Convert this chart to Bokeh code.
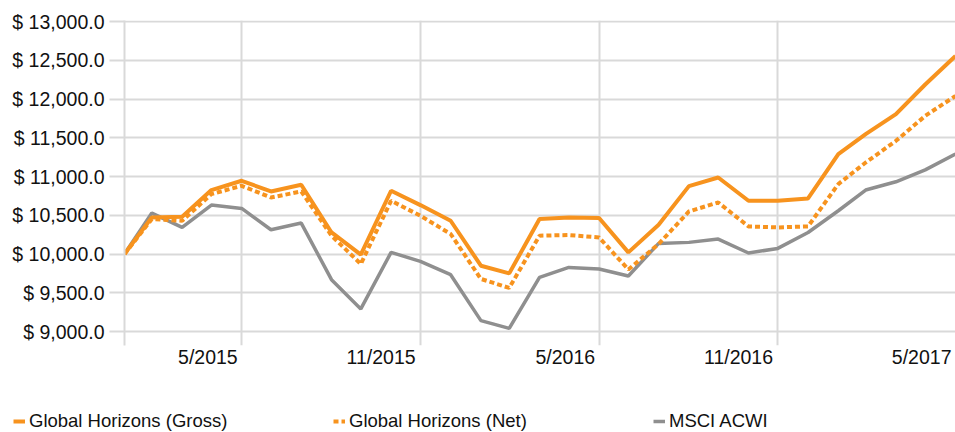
import pandas as pd
from bokeh.plotting import figure
from bokeh.models import Range1d, FixedTicker, Legend, LegendItem
from bokeh.embed import file_html
from bokeh.resources import INLINE

# ---------------- data ----------------
dates = pd.date_range("2015-01-31", periods=29, freq="ME")

gross = [10000, 10472, 10481, 10825, 10945, 10807, 10893, 10278, 9991, 10816,
         10631, 10429, 9849, 9750, 10451, 10472, 10464, 10021, 10378, 10876,
         10987, 10687, 10687, 10717, 11289, 11546, 11804, 12187, 12555]
net = [10000, 10451, 10429, 10773, 10880, 10729, 10807, 10236, 9871, 10687,
       10494, 10258, 9678, 9562, 10236, 10245, 10214, 9800, 10129, 10549,
       10665, 10356, 10343, 10356, 10902, 11180, 11460, 11782, 12040]
msci = [10000, 10528, 10343, 10631, 10588, 10313, 10399, 9669, 9291, 10021,
        9905, 9733, 9140, 9041, 9698, 9827, 9807, 9716, 10137, 10150,
        10193, 10013, 10072, 10278, 10558, 10825, 10932, 11086, 11289]

series_names = ["Global Horizons (Gross)", "Global Horizons (Net)", "MSCI ACWI"]

x_tick_dates = ["2015-05-31", "2015-11-30", "2016-05-31", "2016-11-30", "2017-05-31"]
x_tick_labels = ["5/2015", "11/2015", "5/2016", "11/2016", "5/2017"]

y_ticks = [9000, 9500, 10000, 10500, 11000, 11500, 12000, 12500, 13000]
y_tick_labels = ["$ 9,000.0", "$ 9,500.0", "$ 10,000.0", "$ 10,500.0", "$ 11,000.0",
                 "$ 11,500.0", "$ 12,000.0", "$ 12,500.0", "$ 13,000.0"]

# ---------------- style ----------------
ORANGE = "#F7931E"
GRAY = "#8F8F8F"
GRID = "#D9D9D9"
TEXT = "#111111"
FONT = "Liberation Sans"
AXIS_FS = 19.5

W = 955
FRAME_LEFT, FRAME_TOP = 124, 20
PX_PER_UNIT = 310.0 / 4000.0     # 4000 $ span over 310 px
BELOW_EXT = 14                    # grid lines run 14 px below the lowest gridline
TOP_EXT = 1
MAIN_H = 405
LEG_H = 432 - MAIN_H


def ms(d):
    return pd.Timestamp(d).timestamp() * 1000.0


x0, x1 = ms(dates[0]), ms(dates[-1])
frame_w = W - FRAME_LEFT
ms_per_px = (x1 - x0) / frame_w

y0 = y_ticks[0] - BELOW_EXT / PX_PER_UNIT
y1 = y_ticks[-1] + TOP_EXT / PX_PER_UNIT
frame_h = (y1 - y0) * PX_PER_UNIT

p = figure(width=W, height=MAIN_H, x_axis_type="datetime",
           output_backend="svg", toolbar_location=None,
           x_range=Range1d(x0, x1), y_range=Range1d(y0, y1),
           min_border_left=FRAME_LEFT, min_border_right=0,
           min_border_top=FRAME_TOP,
           min_border_bottom=int(round(MAIN_H - FRAME_TOP - frame_h)))
p.outline_line_color = None

# grids
p.xgrid.ticker = FixedTicker(ticks=[ms(d) for d in x_tick_dates])
p.ygrid.ticker = FixedTicker(ticks=y_ticks)
for g in (p.xgrid, p.ygrid):
    g.grid_line_color = GRID
    g.grid_line_width = 2

# y axis
p.yaxis.ticker = FixedTicker(ticks=y_ticks)
p.yaxis.major_label_overrides = {t: s for t, s in zip(y_ticks, y_tick_labels)}
p.yaxis.axis_line_color = GRID
p.yaxis.axis_line_width = 2
p.yaxis.major_tick_line_color = GRID
p.yaxis.major_tick_line_width = 2
p.yaxis.major_tick_in = 0
p.yaxis.major_tick_out = 15
p.yaxis.minor_tick_line_color = None
p.yaxis.major_label_standoff = 5

# x axis: labels sit to the left of their grid line (right-aligned look)
char_em = {"/": 0.278}


def text_px(s):
    return sum(char_em.get(c, 0.556) for c in s) * AXIS_FS


label_pos = [ms(d) - (4 + text_px(s) / 2) * ms_per_px for d, s in zip(x_tick_dates, x_tick_labels)]
p.xaxis.ticker = FixedTicker(ticks=label_pos)
p.xaxis.major_label_overrides = {t: s for t, s in zip(label_pos, x_tick_labels)}
p.xaxis.axis_line_color = None
p.xaxis.major_tick_line_color = None
p.xaxis.minor_tick_line_color = None
p.xaxis.major_tick_in = 0
p.xaxis.major_tick_out = 0
p.xaxis.major_label_standoff = 0

for ax in (p.xaxis, p.yaxis):
    ax.major_label_text_font = FONT
    ax.major_label_text_font_size = f"{AXIS_FS}px"
    ax.major_label_text_color = TEXT

# lines
p.line(dates, msci, line_color=GRAY, line_width=3.5)
p.line(dates, net, line_color=ORANGE, line_width=4, line_dash="5 3")
p.line(dates, gross, line_color=ORANGE, line_width=4)

# ---------------- legend strip (separate root, frame = whole strip) ----------------
q = figure(width=W, height=LEG_H, output_backend="svg", toolbar_location=None,
           x_range=Range1d(0, 1), y_range=Range1d(0, 1),
           min_border_left=0, min_border_right=0, min_border_top=0, min_border_bottom=0)
q.axis.visible = False
q.grid.visible = False
q.outline_line_color = None
# same series, far outside this strip's ranges: only their legend swatches show
lg_gross = q.line(dates, gross, line_color=ORANGE, line_width=4)
lg_net = q.line(dates, net, line_color=ORANGE, line_width=4, line_dash="5 3")
lg_msci = q.line(dates, msci, line_color=GRAY, line_width=3.5)

legend = Legend(items=[LegendItem(label=series_names[0], renderers=[lg_gross]),
                       LegendItem(label=series_names[1], renderers=[lg_net]),
                       LegendItem(label=series_names[2], renderers=[lg_msci])],
                location=(13, 0), orientation="horizontal",
                label_width=304, glyph_width=12, glyph_height=20, label_height=20,
                label_standoff=4, spacing=0, padding=0, margin=0,
                border_line_color=None, background_fill_alpha=0,
                label_text_font=FONT, label_text_font_size="18.5px",
                label_text_color=TEXT)
q.add_layout(legend, "center")

open("out.html", "w").write(file_html([p, q], INLINE))
